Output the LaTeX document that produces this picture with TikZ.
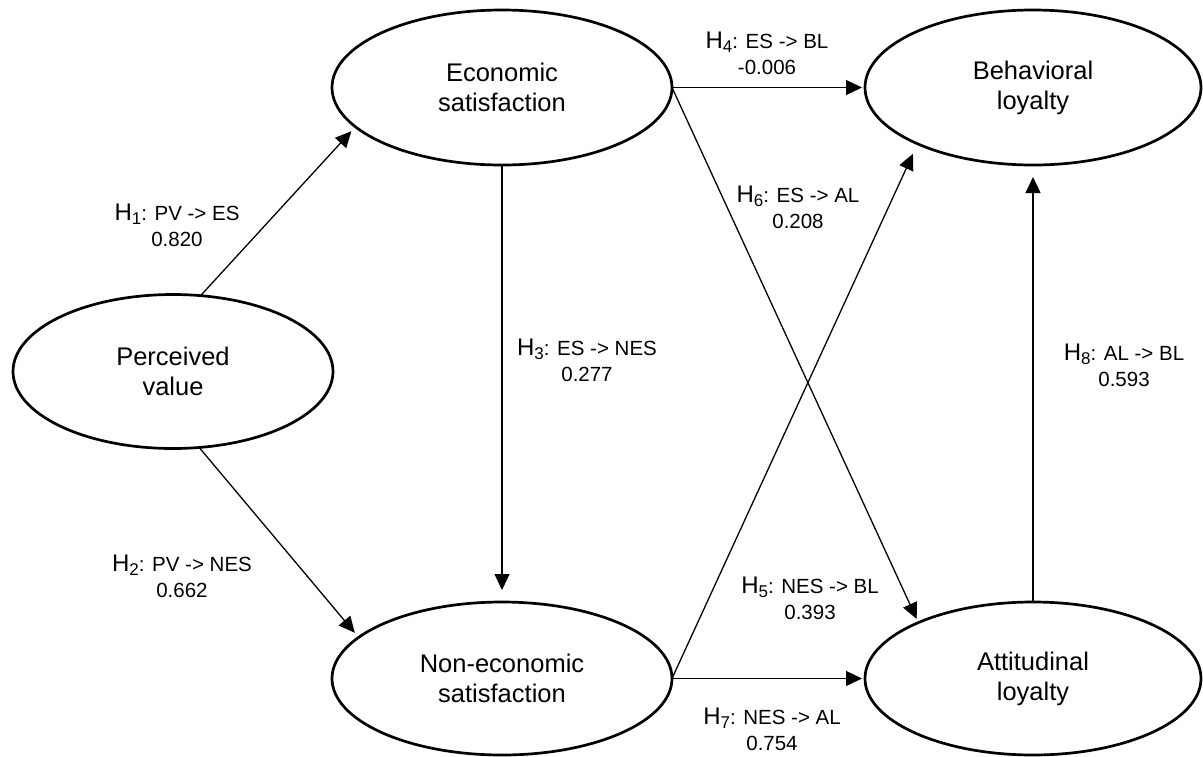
\documentclass[tikz,border=0pt]{standalone}
\usepackage{fontspec}
\setmainfont{Liberation Sans}
\usetikzlibrary{arrows.meta,shapes.geometric}
\newcommand{\hyp}[3]{{\fontsize{24}{26}\selectfont H}\raisebox{-4.5pt}{\fontsize{17}{17}\selectfont #1}: #2\\#3}
\begin{document}
\begin{tikzpicture}[x=1pt,y=-1pt,
  latent/.style={ellipse, draw, line width=2.7pt, inner sep=0pt, outer sep=0pt,
    minimum width=340pt, minimum height=155pt,
    font=\fontsize{25.5}{30}\selectfont, align=center},
  conn/.style={line width=1.3pt, -{Triangle[length=16pt,width=15pt]}},
  lab/.style={font=\fontsize{20.5}{26}\selectfont, align=center, inner sep=0pt}]
\useasboundingbox (0,0) rectangle (1203,756);
\node[latent, minimum width=320pt, minimum height=154pt] (pv) at (173,371.5) {Perceived\\value};
\node[latent] (es) at (502,87.5) {Economic\\satisfaction};
\node[latent, minimum height=153pt] (nes) at (502,678.5) {Non-economic\\satisfaction};
\node[latent, minimum width=336pt] (bl) at (1033,87.5) {Behavioral\\loyalty};
\node[latent, minimum width=336pt, minimum height=153pt] (al) at (1033,678.5) {Attitudinal\\loyalty};

\draw[conn, shorten >=6pt] (pv.70.6) -- (es.195.4);
\draw[conn, shorten >=6pt] (pv.289.4) -- (nes.164.2);
\draw[conn, shorten >=12pt] (es.south) -- (nes.north);
\draw[conn, shorten >=3pt] (es.east) -- (bl.west);
\draw[conn, shorten >=11pt] (nes.east) -- (bl.206.4);
\draw[conn, shorten >=4pt] (es.east) -- (al.154.2);
\draw[conn, shorten >=3pt] (nes.east) -- (al.west);
\draw[conn, shorten >=12pt] (al.north) -- (bl.south);

\node[lab] (l1) at (177,225) {\hyp{1}{PV -> ES}{0.820}};
\node[lab] (l2) at (182,576) {\hyp{2}{PV -> NES}{0.662}};
\node[lab] (l3) at (587,360) {\hyp{3}{ES -> NES}{0.277}};
\node[lab] (l4) at (767,53) {\hyp{4}{ES -> BL}{-0.006}};
\node[lab] (l5) at (810,598) {\hyp{5}{NES -> BL}{0.393}};
\node[lab] (l6) at (798,207) {\hyp{6}{ES -> AL}{0.208}};
\node[lab] (l7) at (772,729) {\hyp{7}{NES -> AL}{0.754}};
\node[lab] (l8) at (1124,365) {\hyp{8}{AL -> BL}{0.593}};
\end{tikzpicture}
\end{document}
